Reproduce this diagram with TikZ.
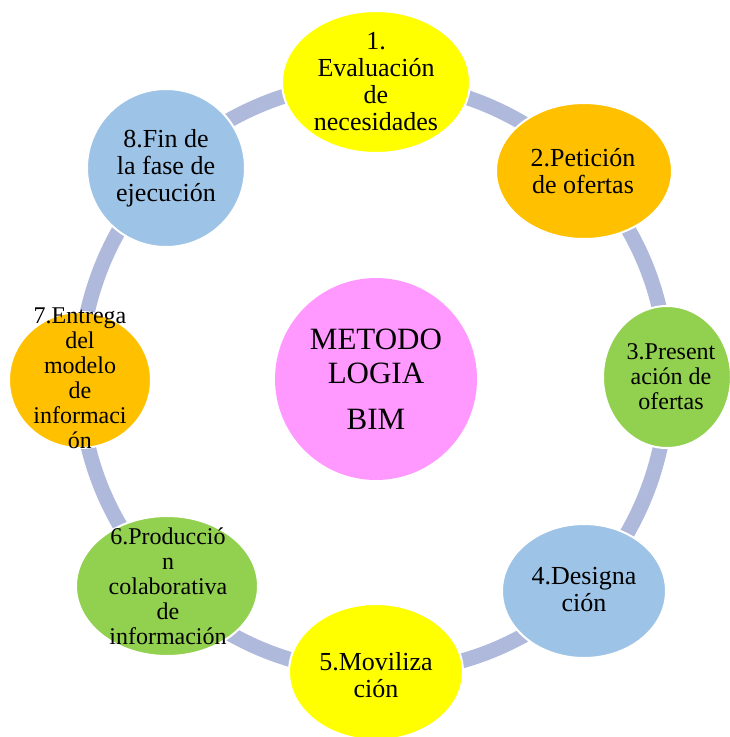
\documentclass[tikz,border=0pt]{standalone}
\usepackage{fontspec}
\setmainfont{Liberation Serif}
\usetikzlibrary{shapes.geometric,backgrounds}
\definecolor{bimpink}{HTML}{FF99FF}
\definecolor{styellow}{HTML}{FFFF00}
\definecolor{storange}{HTML}{FFC000}
\definecolor{stgreen}{HTML}{92D050}
\definecolor{stblue}{HTML}{9DC3E6}
\definecolor{arcblue}{HTML}{AFB9DC}
\tikzset{
	stage/.style={ellipse,draw=white,line width=2pt,inner sep=0pt},
	bigtext/.style={align=center,inner sep=0pt,font=\fontsize{26}{27}\selectfont},
	smalltext/.style={align=center,inner sep=0pt,font=\fontsize{24}{25}\selectfont},
	cyclearc/.style={arcblue,line width=15pt,bend left=22.5,looseness=0.885}
}
\begin{document}
\begin{tikzpicture}[x=1pt,y=-1pt]
		\useasboundingbox (0,0) rectangle (730,737);
		\node[circle,fill=bimpink,minimum size=202pt,inner sep=0pt] (bim) at (376,379) {};
		\node[stage,fill=styellow,minimum width=188pt,minimum height=142pt] (s1) at (376,82) {};
		\node[stage,fill=storange,minimum width=176pt,minimum height=136pt] (s2) at (584,171) {};
		\node[stage,fill=stgreen,minimum width=128pt,minimum height=142pt] (s3) at (667,377) {};
		\node[stage,fill=stblue,minimum width=164pt,minimum height=134pt] (s4) at (584,591) {};
		\node[stage,fill=styellow,minimum width=174pt,minimum height=136pt] (s5) at (376,672) {};
		\node[stage,fill=stgreen,minimum width=182pt,minimum height=140pt] (s6) at (167,586) {};
		\node[stage,fill=storange,minimum width=142pt,minimum height=136pt] (s7) at (80,380) {};
		\node[stage,fill=stblue,minimum width=158pt,minimum height=158pt] (s8) at (166,168) {};
		\begin{scope}[on background layer]
		\draw[cyclearc] (s1.center) to (s2.center);
		\draw[cyclearc] (s2.center) to (s3.center);
		\draw[cyclearc] (s3.center) to (s4.center);
		\draw[cyclearc] (s4.center) to (s5.center);
		\draw[cyclearc] (s5.center) to (s6.center);
		\draw[cyclearc] (s6.center) to (s7.center);
		\draw[cyclearc] (s7.center) to (s8.center);
		\draw[cyclearc] (s8.center) to (s1.center);
		\end{scope}
		\node[align=center,inner sep=0pt,font=\fontsize{31}{34}\selectfont] (bimtext) at (bim) {METODO\\LOGIA\\[12pt]BIM};
		\node[bigtext] (t1) at (376,82) {1.\\Evaluación\\de\\necesidades};
		\node[bigtext] (t2) at (583,171) {2.Petición\\de ofertas};
		\node[smalltext] (t3) at (671,377) {3.Present\\ación de\\ofertas};
		\node[bigtext] (t4) at (584,590) {4.Designa\\ción};
		\node[bigtext] (t5) at (376,675) {5.Moviliza\\ción};
		\node[smalltext] (t6) at (168,586) {6.Producció\\n\\colaborativa\\de\\información};
		\node[smalltext] (t7) at (80,378) {7.Entrega\\del\\modelo\\de\\informaci\\ón};
		\node[bigtext] (t8) at (166,168) {8.Fin de\\la fase de\\ejecución};
\end{tikzpicture}
\end{document}
